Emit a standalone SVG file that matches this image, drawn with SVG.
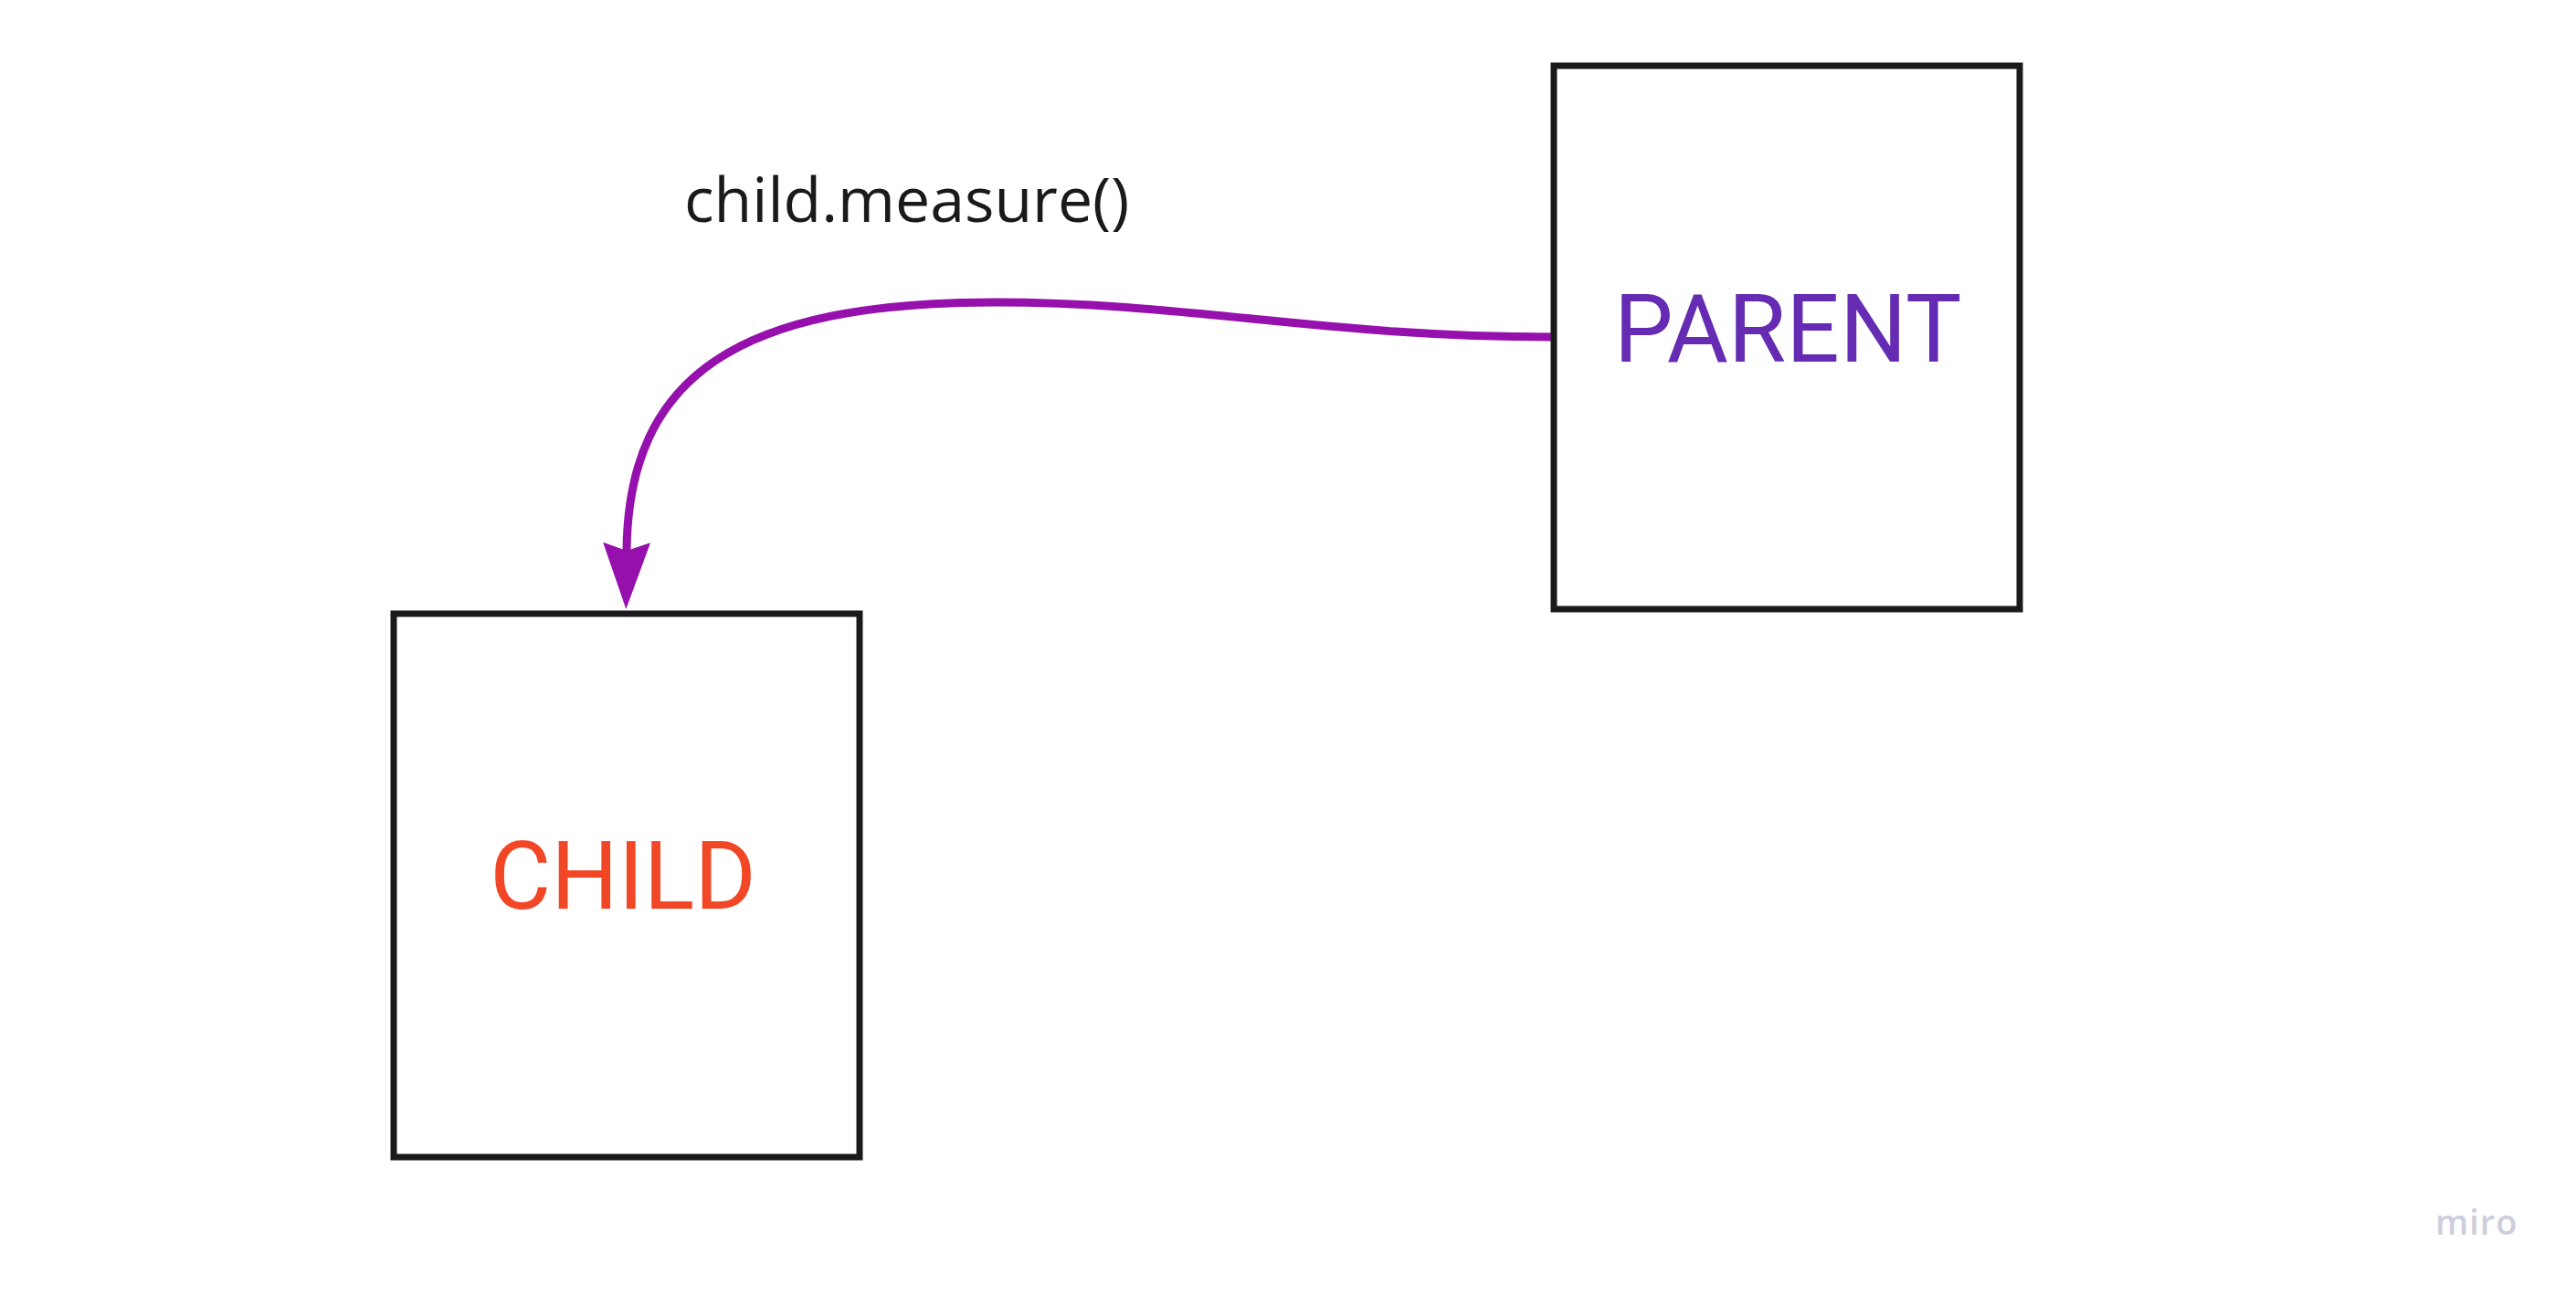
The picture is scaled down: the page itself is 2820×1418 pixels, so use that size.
<svg xmlns="http://www.w3.org/2000/svg" width="2820" height="1418" viewBox="0 0 2820 1418">
  <style>
    .box { fill: #ffffff; stroke: #1a1a1a; stroke-width: 7; }
    .node-label { font-family: Roboto, "Liberation Sans", sans-serif; font-size: 103px; text-anchor: middle; }
    .edge { fill: none; stroke: #9510AC; stroke-width: 9; }
    .edge-label { font-family: "Open Sans", "Liberation Sans", sans-serif; font-size: 68px; fill: #1a1a1a; }
    .brand { font-family: "Open Sans", "Liberation Sans", sans-serif; font-weight: 600; font-size: 38px; fill: #CDCEDB; letter-spacing: 1px; }
  </style>
  <defs>
    <marker id="arrow" markerUnits="userSpaceOnUse" viewBox="0 -30 80 60" markerWidth="80" markerHeight="60" refX="9" refY="0" orient="auto">
      <path d="M0,-26 L73,0 L0,26 L9,0 Z" fill="#9510AC"/>
    </marker>
  </defs>
  <rect width="2820" height="1418" fill="#ffffff"/>

  <g id="connectors">
    <path class="edge" d="M 1699 369 C 1450 369, 1300 331, 1089 331 C 810 331, 688 410, 686 603" marker-end="url(#arrow)"/>
    <text class="edge-label" x="749" y="243">child.measure()</text>
  </g>

  <g id="parent">
    <rect class="box" x="1701" y="72" width="510" height="595"/>
    <text class="node-label" x="1957" y="396" fill="#652CB3">PARENT</text>
  </g>

  <g id="child">
    <rect class="box" x="431" y="672" width="510" height="595"/>
    <text class="node-label" x="682" y="995" fill="#F24726">CHILD</text>
  </g>

  <g id="watermark">
    <text class="brand" x="2666" y="1352">miro</text>
  </g>
</svg>
